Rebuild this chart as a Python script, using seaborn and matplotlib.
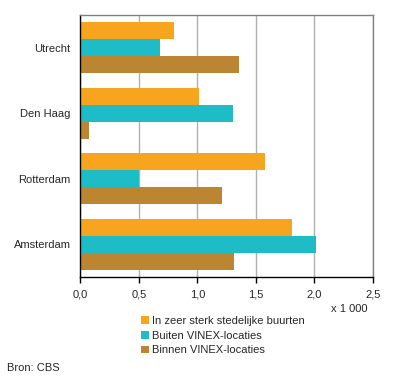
import pandas as pd
import matplotlib.pyplot as plt
import seaborn as sns

# Data (x 1 000)
cities = ["Utrecht", "Den Haag", "Rotterdam", "Amsterdam"]
series = ["In zeer sterk stedelijke buurten", "Buiten VINEX-locaties", "Binnen VINEX-locaties"]
stedelijk = [0.80, 1.015, 1.58, 1.81]
buiten_vinex = [0.68, 1.305, 0.50, 2.015]
binnen_vinex = [1.357, 0.073, 1.21, 1.314]
xticks = [0.0, 0.5, 1.0, 1.5, 2.0, 2.5]
xtick_labels = ["0,0", "0,5", "1,0", "1,5", "2,0", "2,5"]
colors = ["#F7A51E", "#1EBCC6", "#BB8532"]

df = pd.DataFrame({
    "city": cities * 3,
    "serie": [series[0]] * 4 + [series[1]] * 4 + [series[2]] * 4,
    "value": stedelijk + buiten_vinex + binnen_vinex,
})

sns.set_style("white")
plt.rcParams["font.family"] = ["Liberation Sans", "DejaVu Sans"]
fs = 8

fig = plt.figure(figsize=(3.96, 3.81), dpi=100)
ax = fig.add_axes([0.203, 0.273, 0.738, 0.688])

sns.barplot(data=df, x="value", y="city", hue="serie", order=cities,
            hue_order=series, palette=colors, width=0.78, saturation=1,
            orient="h", linewidth=0, ax=ax)

ax.set_xlim(0, 2.5)
ax.set_xticks(xticks)
ax.set_xticklabels(xtick_labels)
ax.set_xlabel("")
ax.set_ylabel("")
ax.grid(axis="x", color="#b0b0b0", linewidth=1)
ax.set_axisbelow(True)
ax.tick_params(axis="x", bottom=True, length=4, width=1, color="black", pad=5, labelsize=fs)
ax.tick_params(axis="y", left=False, pad=3.5, labelsize=fs)
for side in ["left", "bottom"]:
    ax.spines[side].set_color("black")
    ax.spines[side].set_linewidth(1)
for side in ["top", "right"]:
    ax.spines[side].set_color("#808080")
    ax.spines[side].set_linewidth(1)

handles, labels = ax.get_legend_handles_labels()
ax.get_legend().remove()
fig.legend(handles, labels, loc="upper left", bbox_to_anchor=(0.357, 0.171),
           frameon=False, fontsize=fs, handlelength=0.7, handleheight=0.7,
           handletextpad=0.3, labelspacing=0.43, borderpad=0, borderaxespad=0)

fig.text(0.927, 0.189, "x 1 000", ha="right", va="center", fontsize=fs)
fig.text(0.018, 0.034, "Bron: CBS", ha="left", va="center", fontsize=fs)

fig.savefig("out.png", dpi=100)
